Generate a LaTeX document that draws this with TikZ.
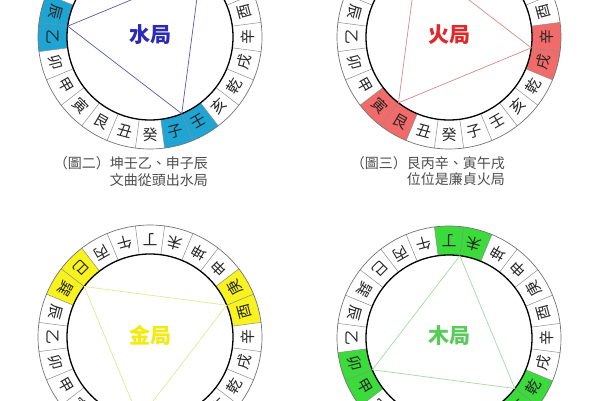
\documentclass[tikz,border=0pt]{standalone}
\usepackage{fontspec}
\newfontfamily\cjk{Noto Sans CJK TC}
\usetikzlibrary{positioning}

\definecolor{water}{HTML}{1FA5D3}
\definecolor{waterline}{HTML}{5A5AA8}
\definecolor{waterlabel}{HTML}{2A2AB5}
\definecolor{fire}{HTML}{F26B6B}
\definecolor{fireline}{HTML}{D88A8A}
\definecolor{firelabel}{HTML}{E02828}
\definecolor{gold}{HTML}{F8F21E}
\definecolor{goldline}{HTML}{DDEB95}
\definecolor{goldlabel}{HTML}{F2EA10}
\definecolor{wood}{HTML}{3ADB3A}
\definecolor{woodline}{HTML}{A5D9A5}
\definecolor{woodlabel}{HTML}{5ACB5A}

\begin{document}
\begin{tikzpicture}[x=1pt,y=1pt,
  mount/.style={font=\cjk\fontsize{15}{15}\selectfont,text=black!85,inner sep=0pt},
  jutext/.style={font=\cjk\bfseries\fontsize{21}{21}\selectfont,inner sep=0pt},
  caption/.style={font=\cjk\fontsize{14}{14}\selectfont,text=black!70,inner sep=0pt,anchor=east}]
\useasboundingbox (0,0) rectangle (600,400);
\clip (0,0) rectangle (600,400);
\fill[white] (0,0) rectangle (600,400);

% four compass rings, triangle through the three pairs
\foreach \cx/\cy/\v/\fc/\lc/\jt/\jc [count=\n] in {
  150/363/172.5/water/waterline/水局/waterlabel,
  449/363/232.5/fire/fireline/火局/firelabel,
  150/63/142.5/gold/goldline/金局/goldlabel,
  449/62/82.5/wood/woodline/木局/woodlabel}
{
\begin{scope}[shift={(\cx,\cy)}]
  \foreach \k in {0,120,240}
    \fill[\fc] (\v+\k-15:83) arc[start angle=\v+\k-15,end angle=\v+\k+15,radius=83]
      -- (\v+\k+15:112) arc[start angle=\v+\k+15,end angle=\v+\k-15,radius=112] -- cycle;
  \foreach \a in {7.5,22.5,...,352.5}
    \draw[black!45,line width=0.5pt] (\a:83) -- (\a:112);
  \draw[black!55,line width=0.7pt] (0,0) circle (112);
  \draw[black,line width=1.3pt] (0,0) circle (83);

  \coordinate (p\n-1) at (\v:83);
  \coordinate (p\n-2) at (\v+120:83);
  \coordinate (p\n-3) at (\v+240:83);
  \draw[\lc,line width=0.7pt] (p\n-1) -- (p\n-2) -- (p\n-3) -- cycle;

  \foreach \m [count=\i from 0] in {辛,酉,庚,申,坤,未,丁,午,丙,巳,巽,辰,乙,卯,甲,寅,艮,丑,癸,子,壬,亥,乾,戌}
    \node[mount,rotate=\i*15+90] (m\n-\i) at (\i*15:97.5) {\m};

  \node[jutext,text=\jc] (ju\n) at (0,2) {\jt};
\end{scope}
}

\node[caption] (capA) at (208,237) {（圖二）坤壬乙、申子辰};
\node[caption] (capB) at (208,220) {文曲從頭出水局};
\node[caption] (capC) at (505,237) {（圖三）艮丙辛、寅午戌};
\node[caption] (capD) at (505,221) {位位是廉貞火局};
\end{tikzpicture}
\end{document}
